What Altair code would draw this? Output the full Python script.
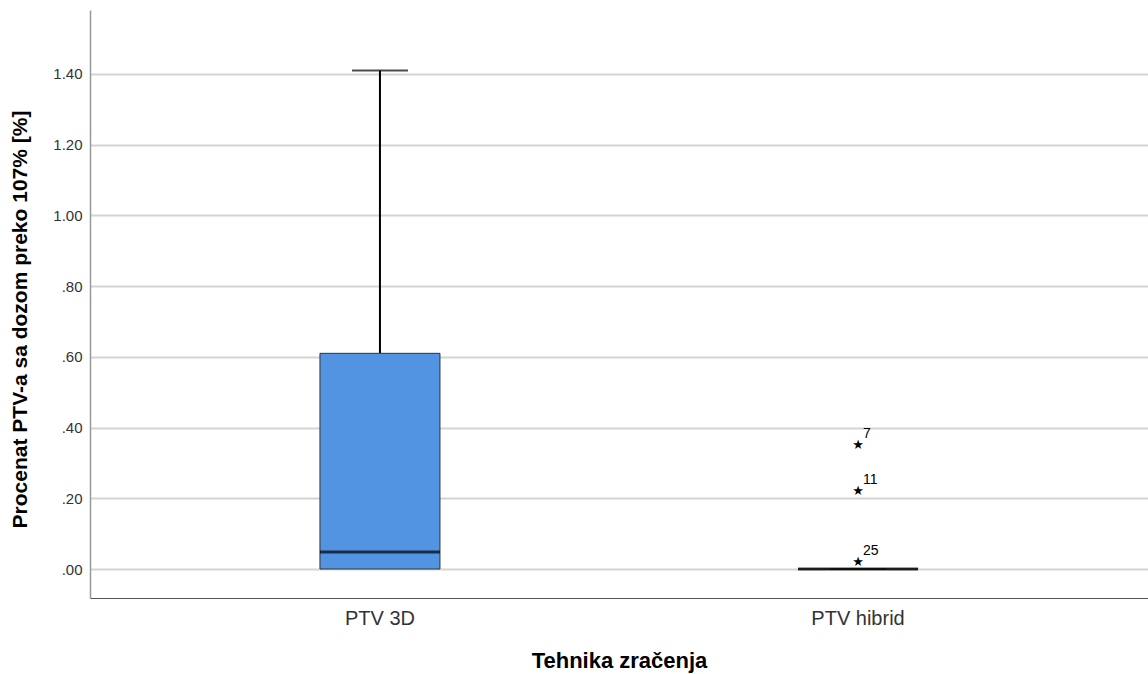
import altair as alt
import pandas as pd

# Summary statistics per irradiation technique
groups = ["PTV 3D", "PTV hibrid"]
lower_whisker = [0.0, 0.0]
q1 = [0.0, 0.0]
median = [0.048, 0.0]
q3 = [0.61, 0.0]
upper_whisker = [1.41, 0.0]

# Extreme values (case numbers) in the hybrid group
outlier_group = ["PTV hibrid", "PTV hibrid", "PTV hibrid"]
outlier_case = ["7", "11", "25"]
outlier_value = [0.35, 0.22, 0.02]

stats = pd.DataFrame({
    "group": groups, "lo": lower_whisker, "q1": q1,
    "med": median, "q3": q3, "hi": upper_whisker,
})
outliers = pd.DataFrame({"group": outlier_group, "case": outlier_case, "value": outlier_value})

FONT = "Liberation Sans"

x_enc = alt.X(
    "group:N", sort=groups,
    scale=alt.Scale(paddingInner=0.749, paddingOuter=0.481),
    axis=alt.Axis(title="Tehnika zračenja", labelAngle=0, labelFontSize=20,
                  labelColor="#333333", labelPadding=10, ticks=False,
                  titleFontSize=22, titleFontWeight="bold", titleColor="#000000",
                  titlePadding=22, domainColor="#555555", domainWidth=1.2,
                  grid=False, labelFont=FONT, titleFont=FONT),
)
y_scale = alt.Scale(domain=[-0.082, 1.581], nice=False, zero=False)
y_axis = alt.Axis(
    title="Procenat PTV-a sa dozom preko 107% [%]",
    values=[0, 0.2, 0.4, 0.6, 0.8, 1.0, 1.2, 1.4],
    labelExpr="datum.value < 1 ? replace(format(datum.value, '.2f'), '0.', '.') : format(datum.value, '.2f')",
    labelFontSize=15, labelColor="#333333", labelPadding=8, ticks=False,
    titleFontSize=21, titleFontWeight="bold", titleColor="#000000", titlePadding=22,
    titleY=309,
    domainColor="#999999", domainWidth=1.5,
    gridColor="#d4d4d4", gridWidth=2, labelFont=FONT, titleFont=FONT,
)

base = alt.Chart(stats).encode(x=x_enc)

whisker = base.mark_rule(color="#000000", strokeWidth=2).encode(
    y=alt.Y("q3:Q", scale=y_scale, axis=y_axis), y2="hi:Q"
)
cap = base.mark_tick(color="#000000", size=56, thickness=2).encode(y="hi:Q")
box = base.mark_bar(color="#5294e2", stroke="#333333", strokeWidth=1).encode(
    y="q1:Q", y2="q3:Q"
)
med = base.mark_tick(color="#000000", size=120, thickness=3).encode(y="med:Q")

obase = alt.Chart(outliers).encode(x=alt.X("group:N", sort=groups), y="value:Q")
stars = obase.mark_text(text="★", fontSize=13, color="#000000", font="DejaVu Sans")
labels = obase.mark_text(align="left", baseline="bottom", dx=5, dy=-4,
                         fontSize=14, color="#000000", font=FONT).encode(text="case:N")

chart = alt.layer(whisker, cap, box, med, stars, labels).properties(
    width=1058, height=588,
    autosize=alt.AutoSizeParams(type="none"),
    padding={"left": 90, "top": 10, "right": 0, "bottom": 76},
).configure(background="#ffffff").configure_view(stroke=None)

chart.save("out.html", embed_options={"renderer": "svg", "actions": False})
